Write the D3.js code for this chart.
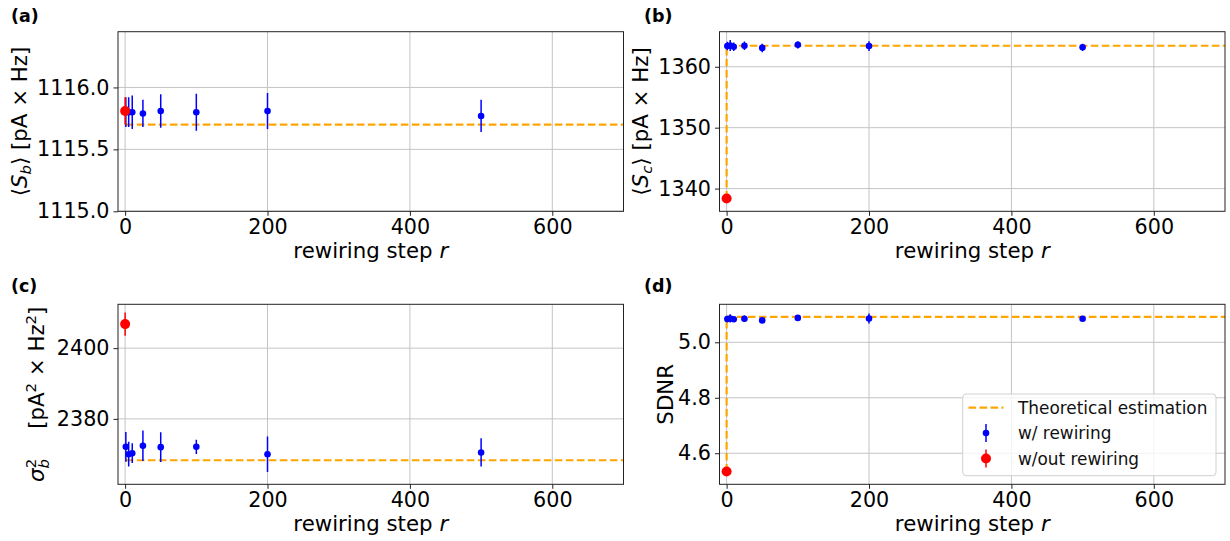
<!DOCTYPE html>
<html><head><meta charset="utf-8">
<script src="https://cdn.jsdelivr.net/npm/d3@7"></script>
<style>
html,body{margin:0;padding:0;background:#fff;}
svg{display:block;font-family:"DejaVu Sans",sans-serif;}
</style></head>
<body><svg id="chart" width="1230" height="541"></svg>
<script>
// ---------- data ----------
const rSteps = [1, 5, 10, 25, 50, 100, 200, 500];
const rNoRewire = [0];
const xTicks = [0, 200, 400, 600];

const sbMean = [1115.80, 1115.80, 1115.80, 1115.79, 1115.81, 1115.80, 1115.81, 1115.77];
const sbErr  = [0.12, 0.12, 0.135, 0.11, 0.135, 0.15, 0.145, 0.13];
const sbNoMean = [1115.81], sbNoErr = [0.11];
const sbTheory = 1115.70;
const sbTicks = [1115.0, 1115.5, 1116.0];

const scMean = [1363.40, 1363.50, 1363.30, 1363.45, 1363.10, 1363.60, 1363.40, 1363.20];
const scErr  = [0.7, 0.9, 0.7, 0.7, 0.7, 0.6, 0.8, 0.6];
const scNoMean = [1338.36], scNoErr = [0.3];
const scTheory = 1363.45;
const scTicks = [1340, 1350, 1360];

const varMean = [2372.1, 2370.0, 2370.3, 2372.4, 2372.0, 2372.1, 2370.0, 2370.5];
const varErr  = [4.2, 3.5, 2.8, 4.3, 4.2, 2.0, 5.0, 4.0];
const varNoMean = [2406.8], varNoErr = [3.3];
const varTheory = 2368.3;
const varTicks = [2380, 2400];

const sdnrMean = [5.084, 5.086, 5.083, 5.085, 5.079, 5.088, 5.086, 5.085];
const sdnrErr  = [0.012, 0.015, 0.010, 0.012, 0.008, 0.010, 0.018, 0.010];
const sdnrNoMean = [4.534], sdnrNoErr = [0.005];
const sdnrTheory = 5.092;
const sdnrTicks = [4.6, 4.8, 5.0];

const legendLabels = ["Theoretical estimation", "w/ rewiring", "w/out rewiring"];

// ---------- layout ----------
const svg = d3.select("#chart");
const panels = [
  {tag:"(a)", lx:11, ly:22, left:118, right:623.5, top:31.7, bottom:211.3, ydom:[1115.0,1116.45],
   mean:sbMean, err:sbErr, noMean:sbNoMean, noErr:sbNoErr, theory:sbTheory, ticks:sbTicks, fmt:d3.format(".1f"), step:false, ylabelX:27, ylab:"a"},
  {tag:"(b)", lx:644, ly:22, left:719.5, right:1225, top:31.7, bottom:211.3, ydom:[1336.27,1365.76],
   mean:scMean, err:scErr, noMean:scNoMean, noErr:scNoErr, theory:scTheory, ticks:scTicks, fmt:d3.format("d"), step:true, ylabelX:648, ylab:"b"},
  {tag:"(c)", lx:11, ly:292, left:118, right:623.5, top:304.3, bottom:484.3, ydom:[2361.5,2412.4],
   mean:varMean, err:varErr, noMean:varNoMean, noErr:varNoErr, theory:varTheory, ticks:varTicks, fmt:d3.format("d"), step:false, ylabelX:44, ylab:"c"},
  {tag:"(d)", lx:644, ly:292, left:719.5, right:1225, top:304.3, bottom:484.3, ydom:[4.488,5.137],
   mean:sdnrMean, err:sdnrErr, noMean:sdnrNoMean, noErr:sdnrNoErr, theory:sdnrTheory, ticks:sdnrTicks, fmt:d3.format(".1f"), step:true, ylabelX:673, ylab:"d"}
];

const TICK_FS = 20.7, LABEL_FS = 21.3;
const ORANGE = "#FFA500";

panels.forEach((p, idx) => {
  const x = d3.scaleLinear().domain([-10, 700]).range([p.left, p.right]);
  const y = d3.scaleLinear().domain(p.ydom).range([p.bottom, p.top]);
  const g = svg.append("g");
  const clipId = "clip" + idx;
  svg.append("clipPath").attr("id", clipId).append("rect")
    .attr("x", p.left).attr("y", p.top).attr("width", p.right - p.left).attr("height", p.bottom - p.top);

  // grid
  g.selectAll(".gx").data(xTicks).join("line")
    .attr("x1", d => x(d)).attr("x2", d => x(d)).attr("y1", p.top).attr("y2", p.bottom)
    .attr("stroke", "#c4c4c4").attr("stroke-width", 1);
  g.selectAll(".gy").data(p.ticks).join("line")
    .attr("x1", p.left).attr("x2", p.right).attr("y1", d => y(d)).attr("y2", d => y(d))
    .attr("stroke", "#c4c4c4").attr("stroke-width", 1);

  const plot = g.append("g").attr("clip-path", `url(#${clipId})`);

  // theory line
  let pts;
  if (p.step) pts = [[rNoRewire[0], p.noMean[0]], [rNoRewire[0], p.theory], [800, p.theory]];
  else pts = [[rSteps[0], p.theory], [800, p.theory]];
  plot.append("path").attr("d", d3.line().x(d => x(d[0])).y(d => y(d[1]))(pts))
    .attr("fill", "none").attr("stroke", ORANGE).attr("stroke-width", 2.2)
    .attr("stroke-dasharray", "7.6,3.4");

  // blue errorbars
  const blue = rSteps.map((r, i) => ({r, m: p.mean[i], e: p.err[i]}));
  plot.selectAll(".eb").data(blue).join("line")
    .attr("x1", d => x(d.r)).attr("x2", d => x(d.r))
    .attr("y1", d => y(d.m - d.e)).attr("y2", d => y(d.m + d.e))
    .attr("stroke", "#0000ff").attr("stroke-width", 1.5);
  plot.selectAll(".pb").data(blue).join("circle")
    .attr("cx", d => x(d.r)).attr("cy", d => y(d.m)).attr("r", 3.3).attr("fill", "#0000ff");

  // red
  const red = rNoRewire.map((r, i) => ({r, m: p.noMean[i], e: p.noErr[i]}));
  plot.selectAll(".er").data(red).join("line")
    .attr("x1", d => x(d.r)).attr("x2", d => x(d.r))
    .attr("y1", d => y(d.m - d.e)).attr("y2", d => y(d.m + d.e))
    .attr("stroke", "#ff0000").attr("stroke-width", 1.5);
  plot.selectAll(".pr").data(red).join("circle")
    .attr("cx", d => x(d.r)).attr("cy", d => y(d.m)).attr("r", 5).attr("fill", "#ff0000");

  // spines
  g.append("rect").attr("x", p.left).attr("y", p.top).attr("width", p.right - p.left).attr("height", p.bottom - p.top)
    .attr("fill", "none").attr("stroke", "#222").attr("stroke-width", 1);

  // axes
  const xa = g.append("g").attr("transform", `translate(0,${p.bottom})`)
    .call(d3.axisBottom(x).tickValues(xTicks).tickSize(4.5).tickPadding(4).tickFormat(d3.format("d")));
  xa.select(".domain").remove();
  xa.selectAll("text").attr("font-size", TICK_FS).attr("fill", "#000").attr("font-family", "DejaVu Sans");
  xa.selectAll("line").attr("stroke", "#222");

  const ya = g.append("g").attr("transform", `translate(${p.left},0)`)
    .call(d3.axisLeft(y).tickValues(p.ticks).tickSize(4.5).tickPadding(4).tickFormat(p.fmt));
  ya.select(".domain").remove();
  ya.selectAll("text").attr("font-size", TICK_FS).attr("fill", "#000").attr("font-family", "DejaVu Sans");
  ya.selectAll("line").attr("stroke", "#222");

  // x label
  const xl = g.append("text").attr("x", (p.left + p.right) / 2).attr("y", p.bottom + 47)
    .attr("text-anchor", "middle").attr("font-size", LABEL_FS);
  xl.append("tspan").text("rewiring step ");
  xl.append("tspan").attr("font-style", "italic").text("r");

  // y label
  const cy = (p.top + p.bottom) / 2;
  const yl = g.append("text").attr("transform", `translate(${p.ylabelX},${cy}) rotate(-90)`)
    .attr("text-anchor", "middle").attr("font-size", LABEL_FS);
  if (p.ylab === "a" || p.ylab === "b") {
    yl.append("tspan").text("⟨");
    yl.append("tspan").attr("font-style", "italic").text("S");
    yl.append("tspan").attr("font-style", "italic").attr("font-size", LABEL_FS * 0.7).attr("dy", 4).text(p.ylab === "a" ? "b" : "c");
    yl.append("tspan").attr("dy", -4).text("⟩ [pA × Hz]");
  } else if (p.ylab === "c") {
    yl.append("tspan").attr("font-style", "italic").text("σ");
    yl.append("tspan").attr("font-style", "italic").attr("font-size", LABEL_FS * 0.7).attr("dy", 5).text("b");
    yl.append("tspan").attr("font-size", LABEL_FS * 0.7).attr("dx", -9.3).attr("dy", -13).text("2");
    yl.append("tspan").attr("dy", 8).attr("dx", 30).text("[pA");
    yl.append("tspan").attr("font-size", LABEL_FS * 0.7).attr("dy", -8).text("2");
    yl.append("tspan").attr("dy", 8).text(" × Hz");
    yl.append("tspan").attr("font-size", LABEL_FS * 0.7).attr("dy", -8).text("2");
    yl.append("tspan").attr("dy", 8).text("]");
  } else {
    yl.text("SDNR");
  }

  // panel tag
  g.append("text").attr("x", p.lx).attr("y", p.ly).attr("font-size", 17.5).attr("font-weight", "bold").text(p.tag);

  // legend in (d)
  if (p.ylab === "d") {
    const lg = g.append("g");
    lg.append("rect").attr("x", 962.7).attr("y", 394).attr("width", 253.3).attr("height", 81.7)
      .attr("rx", 3.5).attr("fill", "#fff").attr("fill-opacity", 0.8).attr("stroke", "#d0d0d0").attr("stroke-width", 1);
    const rows = [407.6, 433, 458.5];
    lg.append("line").attr("x1", 968.5).attr("x2", 1003.5).attr("y1", rows[0]).attr("y2", rows[0])
      .attr("stroke", ORANGE).attr("stroke-width", 2.2).attr("stroke-dasharray", "7.6,3.4");
    lg.append("line").attr("x1", 986).attr("x2", 986).attr("y1", rows[1] - 9).attr("y2", rows[1] + 9)
      .attr("stroke", "#0000ff").attr("stroke-width", 1.5);
    lg.append("circle").attr("cx", 986).attr("cy", rows[1]).attr("r", 3.3).attr("fill", "#0000ff");
    lg.append("line").attr("x1", 986).attr("x2", 986).attr("y1", rows[2] - 9).attr("y2", rows[2] + 9)
      .attr("stroke", "#ff0000").attr("stroke-width", 1.5);
    lg.append("circle").attr("cx", 986).attr("cy", rows[2]).attr("r", 5).attr("fill", "#ff0000");
    lg.selectAll(".lt").data(legendLabels).join("text")
      .attr("x", 1018).attr("y", (d, i) => rows[i] + 6).attr("font-size", 16.9).attr("fill", "#111").text(d => d);
  }
});
</script></body></html>
